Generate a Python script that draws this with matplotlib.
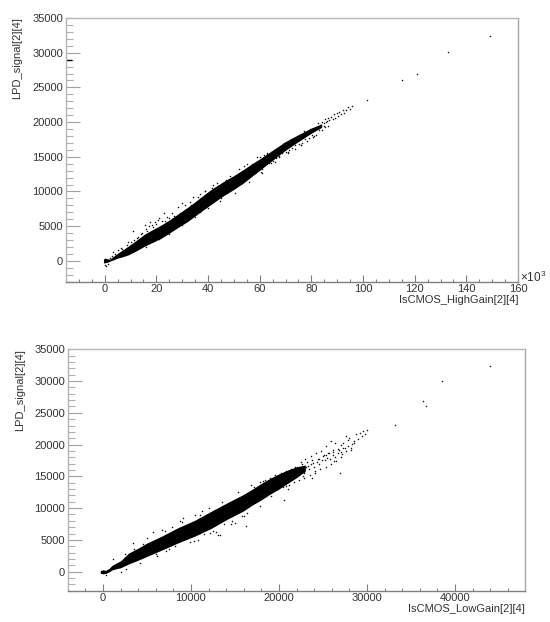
import matplotlib
matplotlib.use("Agg")
import matplotlib.pyplot as plt
from matplotlib.ticker import MultipleLocator

plt.rcParams['font.family'] = ['Liberation Sans', 'DejaVu Sans']
plt.rcParams['mathtext.default'] = 'regular'

# upper panel, solid core of the cloud (x in units of 10^3)
high_x = [-0.5, 0, 1, 2, 3, 5, 7, 9, 12, 15.6, 19, 22, 25, 28.5, 32, 34.9, 38, 41.4, 45.8, 50, 53.6, 57, 60, 62, 66, 70, 75, 80, 84]
high_lo = [-300, -280, -200, -50, 100, 400, 600, 850, 1400, 2150, 2750, 3300, 4000, 4850, 5650, 6450, 7300, 8200, 9350, 10300, 11200, 12200, 13050, 13650, 14800, 15950, 17200, 18400, 19250]
high_hi = [280, 400, 300, 250, 550, 1100, 1600, 2100, 2900, 3900, 4600, 5200, 5900, 6800, 7700, 8500, 9400, 10350, 11400, 12300, 13150, 14000, 14700, 15200, 16200, 17200, 18200, 19150, 19750]

# upper panel, single points: far tail and points off the core
high_pts_x = [149, 133, 120.8, 114.9, 101.5, 95.8, 94.8, 94.2, 93.3, 92.6, 92.1, 91.4, 90.8, 90.3, 89.8, 89.1, 88.7, 88.2, 87.6, 87, 86.4, 85.8, 85.2, 84.7, 84, 83.2, 82.4, 81.5, 80.7, 79.6, 78.4, 77.2, 76, 74.8, 73.5, 72.1, 70.8, 69.3, 67.6, 66.2, 64.5, 62.8, 61, 58.9, 56.5, 54, 51.5, 49, 46.5, 44, 41.5, 38.7, 36, 33.5, 31, 29, 27, 25, 23.5, 22, 20.5, 19.5, 18.2, 17, 15.8, 14.5, 13, 11.5, 10, 8.5, 6.5, 5, 4, 3.5, 2.8, 2, 1.2, 0.6, 0.2, 36.8, 44.5, 50.5, 56, 60.5, 66, 71, 76, 81]
high_pts_y = [32350, 30050, 26900, 26100, 23200, 22350, 21900, 22200, 21700, 21300, 21800, 21150, 21500, 20900, 21300, 20650, 21100, 20500, 20800, 20250, 20600, 20000, 20400, 19500, 20050, 19350, 19800, 19200, 17800, 18900, 17300, 18700, 16700, 17900, 16150, 17600, 15600, 16950, 15000, 16100, 14100, 15500, 12700, 14950, 13100, 13650, 12550, 11750, 11250, 10700, 10500, 10000, 9150, 8100, 7400, 6950, 6500, 6150, 5800, 5750, 5950, 5600, 5200, 5000, 4650, 3950, 3400, 2950, 2700, 2350, 1750, 1500, 1050, 200, 700, 350, -500, -700, -650, 7000, 8700, 9800, 11300, 12850, 14300, 15700, 16700, 18000]

# upper panel, speckle along the core edges
high_spk_x = [56.5, 57.2, 58, 58.6, 59.3, 60.2, 61, 61.7, 62.4, 63, 63.7, 64.2, 65, 65.6, 66.3, 66.9, 67.5, 68, 68.7, 69.2, 70, 70.6, 71.3, 71.9, 72.6, 73.1, 73.8, 74.4, 75.1, 75.7, 76.4, 77, 77.7, 78.3, 79, 79.6, 80.3, 80.9, 81.6, 82.2, 82.9, 83.5, 84.2, 84.7, 85.3, 85.9, 86.5, 11, 15.6, 17.7, 20.9, 22.8, 28.5, 29.8, 34.2, 9, 6.4, 3.2, 12.5, 14, 16.5, 18.5, 19.8, 24, 26, 31, 33, 37, 39, 42, 43.5, 47, 48.5, 52, 55, 16, 21, 25, 30, 35, 40, 45]
high_spk_y = [12300, 14000, 12700, 14300, 13100, 14900, 13300, 15200, 13900, 15400, 14100, 15700, 14400, 16000, 14800, 16300, 15100, 16450, 15500, 16800, 15700, 17200, 16000, 17350, 16250, 17650, 16700, 17900, 16900, 18200, 17050, 18400, 17600, 18600, 17700, 18950, 18150, 19200, 18200, 19350, 18800, 19600, 18900, 19900, 19300, 20100, 19400, 4360, 5180, 5660, 6190, 6900, 7800, 8350, 9260, 2780, 1870, 1340, 3250, 3900, 4300, 4900, 5300, 6350, 6950, 8050, 8550, 9600, 10100, 10900, 11250, 11700, 12200, 13200, 13900, 2050, 3150, 3900, 5100, 6300, 7600, 9000]

# lower panel, solid core of the cloud
low_x = [-300, 0, 300, 700, 1000, 1500, 2000, 2900, 4000, 5000, 6690, 8500, 10460, 12300, 14200, 15900, 17000, 18000, 19000, 20000, 21000, 22000, 23000]
low_lo = [-250, -350, -300, -50, 250, 450, 600, 1200, 1800, 2400, 3400, 4500, 5600, 6800, 8300, 9500, 10500, 11300, 12200, 13000, 13900, 14800, 15800]
low_hi = [150, 300, 200, 500, 950, 1350, 1700, 2900, 3700, 4500, 5600, 6900, 8100, 9500, 10900, 12100, 13000, 13900, 14700, 15400, 16000, 16500, 16800]

# lower panel, single points: far tail and points off the core
low_pts_x = [44000, 38500, 36400, 36750, 33200, 30000, 29800, 29600, 29400, 29200, 29000, 28800, 28500, 28300, 28000, 27800, 27600, 27500, 27300, 27000, 26700, 26400, 26100, 25900, 25700, 25400, 25100, 24800, 24500, 24200, 23900, 23600, 23300, 23000, 22800, 22500, 22200, 21800, 21500, 21200, 20800, 20400, 26900, 22700, 20600, 21000, 24100, 25300, 26300, 27200, 28200, 23800, 22900, 18200, 16300, 13300, 11000, 9000, 7000, 5000, 3500, 2500, 1200, 400, 6000, 8200, 10300, 12500, 14500, 16000, 17800, 19100, 4200, 5500, 7200, 9500, 11500, 13800, 15800, 2600]
low_pts_y = [32350, 30000, 26850, 26050, 23150, 22300, 21700, 22200, 21300, 21900, 20900, 21600, 20500, 20100, 21100, 20700, 21350, 19500, 20300, 19900, 19300, 20200, 19100, 20500, 18700, 19700, 18300, 19000, 17800, 18600, 17100, 18200, 16600, 17700, 15700, 17200, 16000, 16400, 14700, 15400, 13500, 14200, 15500, 15050, 11300, 13000, 15900, 18350, 17400, 18500, 19100, 14800, 16300, 14200, 7200, 5700, 8900, 7800, 6350, 5250, 3600, 2800, 2000, -600, 2700, 4000, 4900, 6400, 7500, 8800, 10400, 11900, 1300, 4400, 3200, 7300, 5900, 7500, 8800, 400]

# lower panel, speckle around the core
low_spk_x = [17200, 17500, 17800, 18100, 18400, 18700, 19000, 19300, 19600, 19900, 20200, 20500, 20800, 21100, 21400, 21700, 22000, 22300, 22600, 22900, 23200, 23500, 23800, 24100, 24400, 24700, 25000, 25300, 25600, 25900, 26200, 26500, 26800, 27100, 20300, 20700, 21200, 21600, 22100, 22500, 22800, 23100, 23400, 23700, 24000, 24300, 24600, 24900, 25200, 25500, 25800, 26100, 26400, 26700, 27000, 27300, 27600, 27900, 28200, 28500, 3470, 5720, 6690, 9100, 10460, 13090, 12900, 15000, 9900, 2000, 4600, 7800, 8800, 11300, 12000, 13500, 15300, 16800, 7500, 6200, 10800, 12200, 14700, 16400]
low_spk_y = [13300, 11800, 14100, 12100, 14500, 12300, 14800, 12700, 15200, 13000, 15500, 13300, 15800, 13700, 16200, 14100, 16500, 14400, 16900, 14800, 17200, 15200, 17500, 15600, 17800, 16100, 18200, 16500, 18600, 17000, 18900, 17400, 19200, 18100, 14200, 14800, 14300, 15400, 15000, 15900, 15500, 16400, 16100, 16900, 16400, 17300, 17000, 17600, 17500, 17900, 17800, 18400, 18100, 18700, 18800, 19400, 19000, 19700, 19500, 20200, 4500, 6300, 6570, 8460, 8930, 5780, 6300, 7670, 4725, 0, 4350, 7000, 7900, 9500, 10000, 11000, 12500, 13700, 3550, 2500, 4950, 6100, 8000, 9200]

x_labels = ["IsCMOS_HighGain[2][4]", "IsCMOS_LowGain[2][4]"]
y_label = "LPD_signal[2][4]"

W, H = 550, 622
txt = '#333333'
fig = plt.figure(figsize=(5.5, 6.22), dpi=100)


def make_axes(left, right, top, bottom):
    ax = fig.add_axes([left / W, 1 - bottom / H, (right - left) / W, (bottom - top) / H])
    ax.spines['left'].set_color('#b4b4b4')
    ax.spines['top'].set_color('#b8b8b8')
    ax.spines['right'].set_color('#a8a8a8')
    ax.spines['bottom'].set_color('#808080')
    for s in ax.spines.values():
        s.set_linewidth(1.0)
    ax.yaxis.set_major_locator(MultipleLocator(5000))
    ax.yaxis.set_minor_locator(MultipleLocator(1000))
    ax.tick_params(axis='y', which='major', direction='in', length=10, width=0.8, color='#a0a0a0', pad=2, labelsize=8, labelcolor=txt)
    ax.tick_params(axis='y', which='minor', direction='in', length=5, width=0.8, color='#b0b0b0')
    ax.tick_params(axis='x', which='major', direction='in', length=5, width=0.8, color='#808080', pad=2, labelsize=8, labelcolor=txt)
    ax.tick_params(axis='x', which='minor', direction='in', length=2.5, width=0.8, color='#808080')
    ax.set_ylim(-3000, 35000)
    return ax


# upper panel
ax1 = make_axes(66, 518, 18, 281.7)
ax1.set_xlim(-15, 160)
ax1.xaxis.set_major_locator(MultipleLocator(20))
ax1.xaxis.set_minor_locator(MultipleLocator(5))
ax1.fill_between(high_x, high_lo, high_hi, color='black', lw=0)
ax1.plot(high_pts_x, high_pts_y, '.', color='#111111', ms=2.2, mew=0)
ax1.plot(high_spk_x, high_spk_y, '.', color='#111111', ms=2.2, mew=0)
ax1.hlines(28950, -15, -12.6, color='black', lw=1.0)

# lower panel
ax2 = make_axes(67.7, 525.3, 349.3, 590.7)
ax2.set_xlim(-4000, 48000)
ax2.xaxis.set_major_locator(MultipleLocator(10000))
ax2.xaxis.set_minor_locator(MultipleLocator(2000))
ax2.fill_between(low_x, low_lo, low_hi, color='black', lw=0)
ax2.plot(low_pts_x, low_pts_y, '.', color='#111111', ms=2.2, mew=0)
ax2.plot(low_spk_x, low_spk_y, '.', color='#111111', ms=2.2, mew=0)

# axis titles, ROOT style: flush with the frame corners
fig.text(518 / W, 1 - 300 / H, x_labels[0], ha='right', va='center', fontsize=8, color=txt)
fig.text(525.3 / W, 1 - 608.5 / H, x_labels[1], ha='right', va='center', fontsize=8, color=txt)
fig.text(17 / W, 1 - 17 / H, y_label, rotation=90, ha='center', va='top', fontsize=8, color=txt)
fig.text(20.5 / W, 1 - 349 / H, y_label, rotation=90, ha='center', va='top', fontsize=8, color=txt)
fig.text(519.5 / W, 1 - 277 / H, r'$\times10^{3}$', ha='left', va='center', fontsize=8.5, color=txt)

fig.savefig('out.png', dpi=100)
